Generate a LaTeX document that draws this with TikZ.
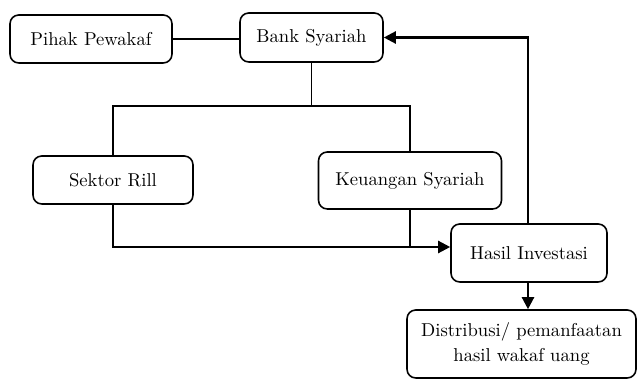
\documentclass[tikz,border=0pt]{standalone}
\usepackage{amsmath}
\usepackage{tikz}
\usetikzlibrary{calc,arrows.meta,positioning}

\begin{document}
\begin{tikzpicture}[
    x=0.02cm, y=-0.02cm,
    box/.style={rectangle, rounded corners=5pt, draw, line width=0.9pt, align=center, font=\fontsize{10.6}{14}\selectfont, inner sep=0pt},
    line/.style={line width=0.8pt},
    arrow/.style={-{Triangle[length=2.4mm, width=2.4mm]}, line width=1.3pt}
]
    \useasboundingbox (0,0) rectangle (640,381);
    \node[box, minimum width=162*0.02cm, minimum height=48*0.02cm] (pihak) at (91,39) {Pihak Pewakaf};
    \node[box, minimum width=143*0.02cm, minimum height=49*0.02cm] (bank) at (311.5,37.5) {Bank Syariah};
    \node[box, minimum width=160*0.02cm, minimum height=48*0.02cm] (sektor) at (113,180) {Sektor Rill};
    \node[box, minimum width=183*0.02cm, minimum height=57*0.02cm] (keuangan) at (410,180.5) {Keuangan Syariah};
    \node[box, minimum width=156*0.02cm, minimum height=58*0.02cm] (hasil) at (529,253) {Hasil Investasi};
    \node[box, minimum width=229*0.02cm, minimum height=68*0.02cm] (distribusi) at (521.5,344) {Distribusi/ pemanfaatan\\hasil wakaf uang};

    \coordinate (cabang) at (311.5,106);
    \coordinate (gabung) at (410,247);
    \coordinate (tebal) at (371,247);

    \draw[line] (pihak.east) -- (bank.west |- pihak.east);
    \draw[line] (bank.south) -- (cabang);
    \draw[line] (sektor.north) |- (cabang) -| (keuangan.north);
    \draw[line] (sektor.south) |- (tebal);
    \draw[line] (keuangan.south) -- (gabung);
    \draw[arrow] (tebal) -- (hasil.west |- tebal);
    \draw[arrow] (hasil.north -| 528,0) |- (bank.east);
    \draw[arrow] (hasil.south -| 528,0) -- (distribusi.north -| 528,0);
\end{tikzpicture}
\end{document}
